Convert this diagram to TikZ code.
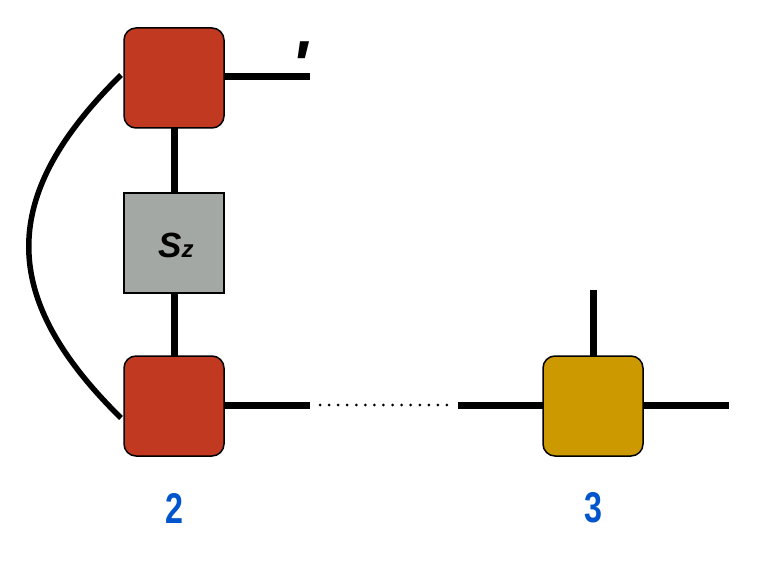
\documentclass[tikz,border=0pt]{standalone}
\usepackage{fontspec}
\setmainfont{Liberation Sans}
\usetikzlibrary{calc}
\definecolor{brick}{RGB}{193,57,33}
\definecolor{gold}{RGB}{204,153,0}
\definecolor{slate}{RGB}{163,168,165}
\definecolor{lblue}{RGB}{0,85,204}
\begin{document}
\begin{tikzpicture}[x=1pt,y=-1pt,
  tensor/.style={draw=black,line width=1.5pt,minimum size=100pt,inner sep=0pt,rounded corners=12pt},
  opbox/.style={draw=black,line width=1.5pt,minimum size=100pt,inner sep=0pt,fill=slate},
  leg/.style={line width=7pt},
  sitelabel/.style={text=lblue,font=\fontsize{43}{43}\selectfont\bfseries,inner sep=0pt}]
\useasboundingbox (0,0) rectangle (784,572);
\coordinate (tr) at (310,77);
\coordinate (br) at (310,405);
\coordinate (yl) at (458,405);
\coordinate (yr) at (729,405);
\coordinate (yu) at (593,290);
\coordinate (d1) at (320,405);
\coordinate (d2) at (450,405);
\coordinate (cs) at (121,75);
\coordinate (ce) at (121,418);
\coordinate (sc) at (174,243);
\draw[leg] (174,78) -- (sc);
\draw[leg] (sc) -- (174,406);
\draw[leg] (174,77) -- (tr);
\draw[leg] (174,405) -- (br);
\draw[leg] (yl) -- (yr);
\draw[leg] (yu) -- (593,406);
\node[tensor,fill=brick] (t) at (174,78) {};
\node[opbox] (s) at (sc) {};
\node[tensor,fill=brick] (b) at (174,406) {};
\node[tensor,fill=gold] (y) at (593,406) {};
\draw[line width=3pt,line cap=round,dash pattern=on 0pt off 9.07pt] (d1) -- (d2);
\draw[line width=5.5pt] (cs) .. controls (-2,196) and (-2,297) .. (ce);
\node[font=\fontsize{35}{35}\selectfont\bfseries\itshape,inner sep=0pt,anchor=base] (sz) at (176,257) {S{\fontsize{24}{24}\selectfont z}};
\node[font=\fontsize{68}{68}\selectfont\bfseries\itshape,inner sep=0pt,anchor=base] (pr) at (300,89) {\textquotesingle};
\node[sitelabel] (l2) at (174.5,508) {\scalebox{0.75}[1]{2}};
\node[sitelabel] (l3) at (593,508) {\scalebox{0.75}[1]{3}};
\end{tikzpicture}
\end{document}
